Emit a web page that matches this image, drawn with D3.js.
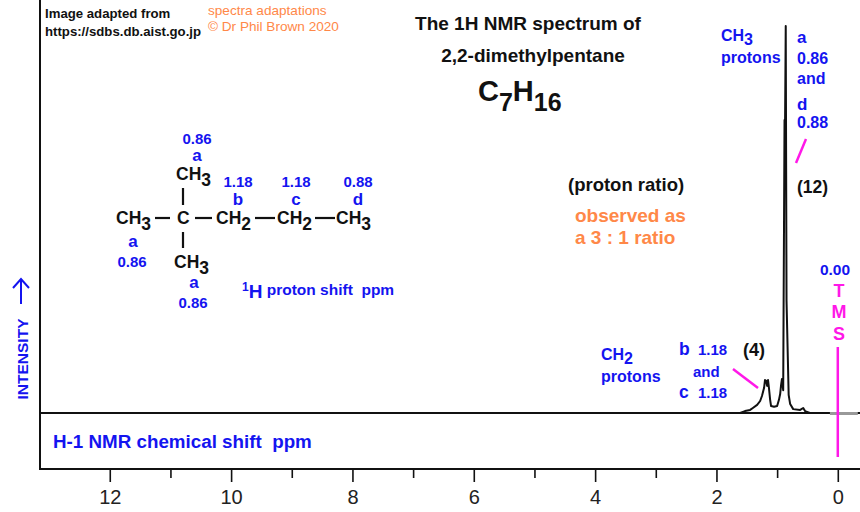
<!DOCTYPE html>
<html>
<head>
<meta charset="utf-8">
<script src="https://cdn.jsdelivr.net/npm/d3@7"></script>
<style>
  body { margin: 0; background: #fff; }
  svg { display: block; font-family: "Liberation Sans", Arial, sans-serif; }
</style>
</head>
<body>
<svg id="chart"></svg>
<script>
// spectrum trace (ppm, relative intensity 0-100)
const tracePpm = [1.61, 1.53, 1.445, 1.40, 1.33, 1.28, 1.25, 1.215, 1.20, 1.18, 1.165, 1.15, 1.135, 1.115, 1.10,
  1.05, 1.00, 0.97, 0.95, 0.935, 0.92, 0.90, 0.878, 0.87, 0.858, 0.845, 0.81, 0.785, 0.735, 0.62, 0.57, 0.54, 0.46];
const traceInt = [0, 0.5, 0.8, 1.3, 2.1, 3.1, 4.4, 6.5, 8.5, 8.3, 7.0, 8.5, 6.5, 3.4, 1.8,
  1.6, 1.8, 3.4, 4.9, 7.2, 8.8, 5.9, 75.7, 73, 100, 29, 4.7, 2.3, 1.0, 0.8, 1.3, 0.5, 0];

const majorTicks = [12, 10, 8, 6, 4, 2, 0];
const minorTicks = [11, 9, 7, 5, 3, 1];

const W = 860, H = 512;
const svg = d3.select('#chart').attr('width', W).attr('height', H);

const x = d3.scaleLinear().domain([13.15, -0.366]).range([40, 860]);
const y = d3.scaleLinear().domain([0, 100]).range([413, 26]);

const blue = '#1414f0';
const orange = '#ff8848';
const magenta = '#ff18e8';
const ink = '#111';

// frame
svg.append('line').attr('x1', 40).attr('x2', 40).attr('y1', 0).attr('y2', 470)
  .attr('stroke', ink).attr('stroke-width', 2);
svg.append('line').attr('x1', 40).attr('x2', 860).attr('y1', y(0)).attr('y2', y(0))
  .attr('stroke', ink).attr('stroke-width', 2);

// bottom axis
const axisG = svg.append('g').attr('transform', 'translate(0,469)');
axisG.call(d3.axisBottom(x).tickValues(majorTicks).tickSize(13).tickPadding(8).tickFormat(d3.format('d')));
axisG.select('.domain').attr('stroke', ink).attr('stroke-width', 2).attr('d', 'M40,0H860');
axisG.selectAll('.tick line').attr('stroke', ink).attr('stroke-width', 1.6);
axisG.selectAll('.tick text').attr('fill', '#222').style('font-size', '20px')
  .style('font-family', '"Liberation Sans", Arial, sans-serif');
const minorG = svg.append('g').attr('transform', 'translate(0,469)');
minorG.call(d3.axisBottom(x).tickValues(minorTicks).tickSize(9).tickFormat(''));
minorG.select('.domain').remove();
minorG.selectAll('.tick line').attr('stroke', ink).attr('stroke-width', 1.6);

// TMS baseline patch
svg.append('rect').attr('x', x(0.13)).attr('y', y(0) - 1).attr('width', x(-0.33) - x(0.13)).attr('height', 3)
  .attr('fill', '#999');

// spectrum
const pts = tracePpm.map((p, i) => [p, traceInt[i]]);
svg.append('path').datum(pts)
  .attr('fill', 'none').attr('stroke', ink).attr('stroke-width', 2).attr('stroke-linejoin', 'round')
  .attr('d', d3.line().x(d => x(d[0])).y(d => y(d[1])));

// helper for text
function txt(t, px, py, opt = {}) {
  return svg.append('text').attr('x', px).attr('y', py)
    .attr('fill', opt.fill || ink)
    .attr('text-anchor', opt.anchor || 'start')
    .style('font-size', (opt.size || 15) + 'px')
    .style('font-weight', opt.weight || 'bold')
    .style('white-space', 'pre')
    .text(t);
}
function formula(parts, px, py, opt = {}) {
  const t = svg.append('text').attr('x', px).attr('y', py)
    .attr('fill', opt.fill || ink).attr('text-anchor', opt.anchor || 'start')
    .style('font-size', (opt.size || 16) + 'px').style('font-weight', 'bold');
  parts.forEach(p => {
    const s = t.append('tspan').text(p.t);
    if (p.sub) s.attr('dy', opt.subDy || 5).style('font-size', (opt.subSize || opt.size || 16) + 'px');
    if (p.back) s.attr('dy', -(opt.subDy || 5));
  });
  return t;
}

// credits
txt('Image adapted from', 45, 18, { size: 13.2 });
txt('https://sdbs.db.aist.go.jp', 45, 36, { size: 13.2 });
txt('spectra adaptations', 208, 15, { size: 13.6, weight: 'normal', fill: orange });
txt('\u00a9 Dr Phil Brown 2020', 208, 31, { size: 13.6, weight: 'normal', fill: orange });

// title
txt('The 1H NMR spectrum of', 528, 30, { size: 19, anchor: 'middle' });
txt('2,2-dimethylpentane', 533, 62, { size: 19, anchor: 'middle' });
formula([{ t: 'C' }, { t: '7', sub: true }, { t: 'H', back: true }, { t: '16', sub: true }], 478, 101,
  { size: 29, subSize: 25, subDy: 10 });

txt('(proton ratio)', 568, 191, { size: 18.5 });
txt('observed as', 575, 222, { size: 19, fill: orange });
txt('a 3 : 1 ratio', 575, 244, { size: 19, fill: orange });

// right annotations
formula([{ t: 'CH' }, { t: '3', sub: true }], 721, 41, { size: 16, fill: blue, subDy: 4 });
txt('protons', 721, 63, { size: 16, fill: blue });
txt('a', 797, 43, { size: 17, fill: blue });
txt('0.86', 797, 64, { size: 16, fill: blue });
txt('and', 797, 84, { size: 16, fill: blue });
txt('d', 797, 110, { size: 17, fill: blue });
txt('0.88', 797, 128, { size: 16, fill: blue });
svg.append('line').attr('x1', 806).attr('y1', 139).attr('x2', 796).attr('y2', 163)
  .attr('stroke', magenta).attr('stroke-width', 2.5);
txt('(12)', 797, 193, { size: 17.5 });

formula([{ t: 'CH' }, { t: '2', sub: true }], 601, 360, { size: 16, fill: blue, subDy: 4 });
txt('protons', 601, 382, { size: 16, fill: blue });
txt('b', 679, 355, { size: 17.5, fill: blue });
txt('1.18', 698, 355, { size: 15, fill: blue });
txt('and', 693, 377, { size: 15, fill: blue });
txt('c', 679, 398, { size: 17.5, fill: blue });
txt('1.18', 698, 398, { size: 15, fill: blue });
txt('(4)', 743, 356, { size: 18 });
svg.append('line').attr('x1', 733).attr('y1', 369).attr('x2', 758).attr('y2', 388)
  .attr('stroke', magenta).attr('stroke-width', 2.5);

// TMS
txt('0.00', 835, 275, { size: 15.5, fill: blue, anchor: 'middle' });
txt('T', 839, 297, { size: 18, fill: magenta, anchor: 'middle' });
txt('M', 839, 318, { size: 18, fill: magenta, anchor: 'middle' });
txt('S', 839, 340, { size: 18, fill: magenta, anchor: 'middle' });
svg.append('line').attr('x1', x(0)).attr('x2', x(0)).attr('y1', 347).attr('y2', 457)
  .attr('stroke', magenta).attr('stroke-width', 2.5);

// y label
svg.append('text').attr('transform', 'translate(28,359) rotate(-90)')
  .attr('text-anchor', 'middle').attr('fill', blue)
  .style('font-size', '15.5px').style('font-weight', 'bold').text('INTENSITY');
svg.append('line').attr('x1', 21).attr('x2', 21).attr('y1', 304).attr('y2', 280)
  .attr('stroke', blue).attr('stroke-width', 2);
svg.append('path').attr('d', 'M13,288 L21,279 L29,288').attr('fill', 'none')
  .attr('stroke', blue).attr('stroke-width', 2);

// x label
txt('H-1 NMR chemical shift  ppm', 53, 448, { size: 18.8, fill: blue });

// structure
const sb = 224;
const fs = 17.5;
formula([{ t: 'CH' }, { t: '3', sub: true }], 116, sb, { size: fs, subDy: 6 });
txt('C', 177, sb, { size: fs });
formula([{ t: 'CH' }, { t: '2', sub: true }], 216, sb, { size: fs, subDy: 6 });
formula([{ t: 'CH' }, { t: '2', sub: true }], 277, sb, { size: fs, subDy: 6 });
formula([{ t: 'CH' }, { t: '3', sub: true }], 336, sb, { size: fs, subDy: 6 });
formula([{ t: 'CH' }, { t: '3', sub: true }], 176, 180, { size: fs, subDy: 6 });
formula([{ t: 'CH' }, { t: '3', sub: true }], 174, 268, { size: fs, subDy: 6 });
const bonds = [[155, 218, 170, 218], [195, 218, 212, 218], [255, 218, 275, 218], [315, 218, 335, 218],
  [183, 188, 183, 205], [183, 232, 183, 248]];
bonds.forEach(b => svg.append('line').attr('x1', b[0]).attr('y1', b[1]).attr('x2', b[2]).attr('y2', b[3])
  .attr('stroke', ink).attr('stroke-width', 2.2));

txt('0.86', 197, 144, { fill: blue, anchor: 'middle' });
txt('a', 197, 161, { fill: blue, anchor: 'middle', size: 17 });
txt('1.18', 238, 187, { fill: blue, anchor: 'middle' });
txt('b', 238, 205, { fill: blue, anchor: 'middle', size: 17 });
txt('1.18', 296, 187, { fill: blue, anchor: 'middle' });
txt('c', 296, 205, { fill: blue, anchor: 'middle', size: 17 });
txt('0.88', 358, 187, { fill: blue, anchor: 'middle' });
txt('d', 358, 205, { fill: blue, anchor: 'middle', size: 17 });
txt('a', 133, 247, { fill: blue, anchor: 'middle', size: 17 });
txt('0.86', 132, 267, { fill: blue, anchor: 'middle' });
txt('a', 194, 288, { fill: blue, anchor: 'middle', size: 17 });
txt('0.86', 193, 308, { fill: blue, anchor: 'middle' });

const sh = svg.append('text').attr('x', 242).attr('y', 298).attr('fill', blue)
  .style('font-weight', 'bold').style('white-space', 'pre');
sh.append('tspan').text('1').attr('dy', -7).style('font-size', '12px');
sh.append('tspan').text('H').attr('dy', 7).style('font-size', '19px');
sh.append('tspan').text(' proton shift  ppm').attr('dy', -3).style('font-size', '15.5px');
</script>
</body>
</html>
